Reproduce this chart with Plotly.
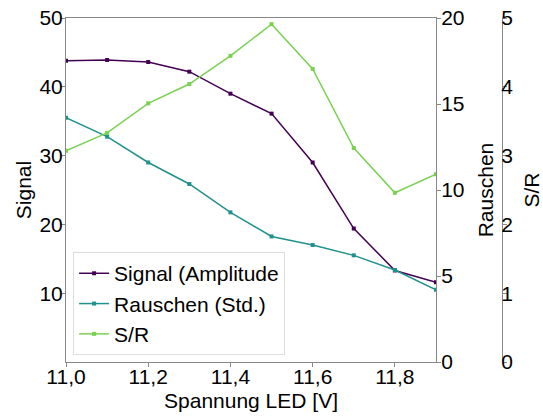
import plotly.graph_objects as go

spannung = [11.0, 11.1, 11.2, 11.3, 11.4, 11.5, 11.6, 11.7, 11.8, 11.9]
signal = [43.8, 43.9, 43.6, 42.2, 39.0, 36.1, 29.0, 19.4, 13.3, 11.6]
rauschen = [14.2, 13.1, 11.6, 10.35, 8.7, 7.3, 6.8, 6.2, 5.35, 4.2]
sr = [3.07, 3.33, 3.76, 4.04, 4.45, 4.91, 4.26, 3.11, 2.46, 2.73]

c_sig = "#440154"
c_rau = "#21918c"
c_sr = "#7ad151"

W, H = 543, 417
ml, mr, mt, mb = 66, 33, 18, 55
pw = W - ml - mr
xdom_end = 370 / pw
pos3 = (502 - ml) / pw

font = dict(family="Liberation Sans, Arial, sans-serif", size=21, color="black")
axcol = "#888888"

fig = go.Figure()
fig.add_trace(go.Scatter(x=spannung, y=signal, mode="lines+markers", name="Signal (Amplitude",
                         line=dict(color=c_sig, width=1.5), marker=dict(symbol="square", size=4, color=c_sig),
                         yaxis="y"))
fig.add_trace(go.Scatter(x=spannung, y=rauschen, mode="lines+markers", name="Rauschen (Std.)",
                         line=dict(color=c_rau, width=1.5), marker=dict(symbol="square", size=4, color=c_rau),
                         yaxis="y2"))
fig.add_trace(go.Scatter(x=spannung, y=sr, mode="lines+markers", name="S/R",
                         line=dict(color=c_sr, width=1.5), marker=dict(symbol="square", size=4, color=c_sr),
                         yaxis="y3"))

common = dict(showgrid=False, zeroline=False, showline=True, linecolor=axcol, linewidth=1,
              ticks="outside", ticklen=4, tickcolor=axcol, tickfont=font)

fig.update_layout(
    width=W, height=H,
    margin=dict(l=ml, r=mr, t=mt, b=mb, autoexpand=False),
    paper_bgcolor="white", plot_bgcolor="white",
    font=font,
    separators=",.",
    showlegend=True,
    legend=dict(x=0.016, y=0.02, xanchor="left", yanchor="bottom", bgcolor="white",
                bordercolor="#dddddd", borderwidth=1, font=dict(size=21), tracegroupgap=0,
                itemwidth=30),
    xaxis=dict(domain=[0, xdom_end], range=[11.0, 11.9], tickvals=[11.0, 11.2, 11.4, 11.6, 11.8],
               tickformat=".1f", mirror=True, ticklabelstandoff=-8,
               title=dict(text="Spannung LED [V]", font=font, standoff=6), **common),
    yaxis=dict(range=[0, 50], tickvals=[10, 20, 30, 40, 50], ticklabelstandoff=-6,
               title=dict(text="Signal", font=font, standoff=2), **common),
    yaxis2=dict(range=[0, 20], tickvals=[0, 5, 10, 15, 20], overlaying="y", side="right", anchor="x",
                ticklabelstandoff=-4,
                title=dict(text="Rauschen", font=font, standoff=14), **common),
    yaxis3=dict(range=[0, 5], tickvals=[0, 1, 2, 3, 4, 5], overlaying="y", side="right", anchor="free",
                position=pos3, ticklabelstandoff=-10,
                title=dict(text="S/R", font=font, standoff=17), **common),
)

fig.write_html("out.html", config={"displayModeBar": False},
               post_script="document.body.style.margin='0';")
